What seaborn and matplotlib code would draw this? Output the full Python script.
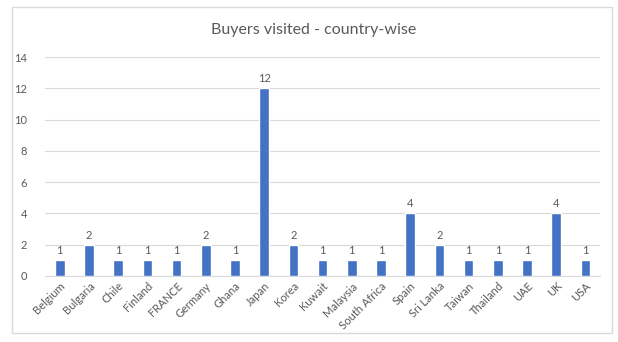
import matplotlib
matplotlib.use('Agg')
import matplotlib.pyplot as plt
import pandas as pd
import seaborn as sns
from matplotlib.patches import Rectangle

countries = ['Belgium', 'Bulgaria', 'Chile', 'Finland', 'FRANCE', 'Germany', 'Ghana',
             'Japan', 'Korea', 'Kuwait', 'Malaysia', 'South Africa', 'Spain',
             'Sri Lanka', 'Taiwan', 'Thailand', 'UAE', 'UK', 'USA']
buyers = [1, 2, 1, 1, 1, 2, 1, 12, 2, 1, 1, 1, 4, 2, 1, 1, 1, 4, 1]
y_ticks = [0, 2, 4, 6, 8, 10, 12, 14]

df = pd.DataFrame({'country': countries, 'buyers': buyers})

sns.set_style('white')
plt.rcParams['font.family'] = ['Lato', 'DejaVu Sans']
text_col = '#595959'
grid_col = '#D9D9D9'

fig = plt.figure(figsize=(6.18, 3.42), dpi=100)
ax = fig.add_axes([0.073, 0.193, 0.898, 0.640])

sns.barplot(data=df, x='country', y='buyers', color='#4472C4', width=0.33,
            saturation=1, ax=ax, zorder=3)

for c in ax.containers:
    ax.bar_label(c, padding=3, fontsize=8, color=text_col)

ax.set_ylim(0, 14)
ax.set_xlim(-0.5, len(countries) - 0.5)
ax.set_yticks(y_ticks)
ax.yaxis.grid(True, color=grid_col, linewidth=0.8, zorder=0)
ax.tick_params(axis='both', length=0, labelsize=8, colors=text_col)
ax.tick_params(axis='y', pad=13)
ax.tick_params(axis='x', pad=3)
plt.setp(ax.get_xticklabels(), rotation=45, ha='right', rotation_mode='anchor')
ax.set_xlabel('')
ax.set_ylabel('')
for s in ['top', 'right', 'left']:
    ax.spines[s].set_visible(False)
ax.spines['bottom'].set_color(grid_col)

fig.text(0.507, 0.912, 'Buyers visited - country-wise', ha='center', va='center',
         fontsize=11.5, color=text_col)
fig.patches.append(Rectangle((0.019, 0.026), 0.971, 0.953, transform=fig.transFigure,
                             fill=False, edgecolor=grid_col, linewidth=1))

fig.savefig('out.png', dpi=100, facecolor='white')
